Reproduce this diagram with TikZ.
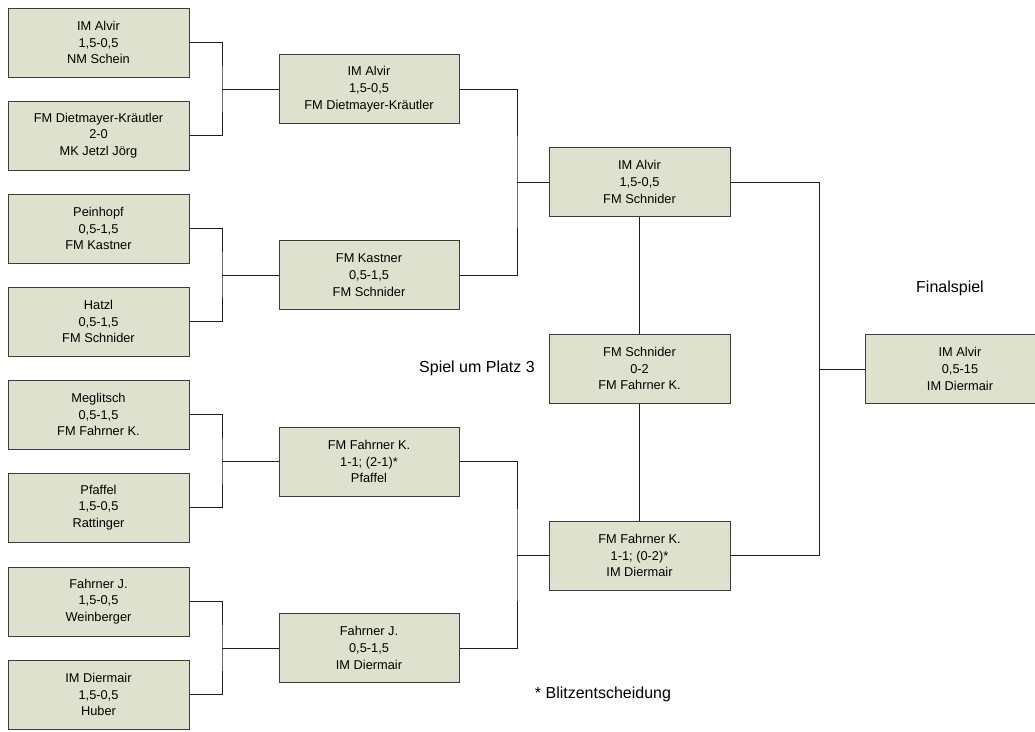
\documentclass[tikz,border=0pt]{standalone}
\usepackage{fontspec}
\setmainfont{Liberation Sans}
\definecolor{boxfill}{RGB}{222,225,205}
\definecolor{boxline}{RGB}{60,60,60}
\definecolor{conn}{RGB}{30,30,30}
\begin{document}
\begin{tikzpicture}[x=1pt,y=-1pt,
  match/.style={draw=boxline, fill=boxfill, line width=1pt, minimum width=181pt, minimum height=69pt,
    inner sep=0pt, align=center, font=\fontsize{12.8}{16.8}\selectfont},
  wire/.style={draw=conn, line width=1pt},
  caption/.style={font=\fontsize{16}{19}\selectfont, inner sep=0pt}]
\useasboundingbox (0,0) rectangle (1035,731);
% column 1
\node[match] (a1) at (98.5,42.5) {IM Alvir\\1,5-0,5\\NM Schein};
\node[match] (a2) at (98.5,135.5) {FM Dietmayer-Kräutler\\2-0\\MK Jetzl Jörg};
\node[match] (a3) at (98.5,228.5) {Peinhopf\\0,5-1,5\\FM Kastner};
\node[match] (a4) at (98.5,321.5) {Hatzl\\0,5-1,5\\FM Schnider};
\node[match] (a5) at (98.5,414.5) {Meglitsch\\0,5-1,5\\FM Fahrner K.};
\node[match] (a6) at (98.5,507.5) {Pfaffel\\1,5-0,5\\Rattinger};
\node[match] (a7) at (98.5,601.5) {Fahrner J.\\1,5-0,5\\Weinberger};
\node[match] (a8) at (98.5,694.5) {IM Diermair\\1,5-0,5\\Huber};
% column 2
\node[match, minimum width=180pt] (b1) at (369,89) {IM Alvir\\1,5-0,5\\FM Dietmayer-Kräutler};
\node[match, minimum width=180pt] (b2) at (369,275) {FM Kastner\\0,5-1,5\\FM Schnider};
\node[match, minimum width=180pt] (b3) at (369,461.5) {FM Fahrner K.\\1-1; (2-1)*\\Pfaffel};
\node[match, minimum width=180pt] (b4) at (369,648) {Fahrner J.\\0,5-1,5\\IM Diermair};
% column 3
\node[match] (c1) at (639.5,182) {IM Alvir\\1,5-0,5\\FM Schnider};
\node[match] (c2) at (639.5,368.5) {FM Schnider\\0-2\\FM Fahrner K.};
\node[match] (c3) at (639.5,555.5) {FM Fahrner K.\\1-1; (0-2)*\\IM Diermair};
% final
\node[match, minimum width=190pt] (f) at (960,369) {IM Alvir\\0,5-15\\IM Diermair};
% junctions
\coordinate (j1) at (222,89);
\coordinate (j2) at (222,275);
\coordinate (j3) at (222,461.5);
\coordinate (j4) at (222,648);
\coordinate (k1) at (517,182);
\coordinate (k2) at (517,555.5);
\coordinate (m1) at (819,369);
% wires
\draw[wire] (a1.east) -| (j1) |- (a2.east); \draw[wire] (j1) -- (b1.west);
\draw[wire] (a3.east) -| (j2) |- (a4.east); \draw[wire] (j2) -- (b2.west);
\draw[wire] (a5.east) -| (j3) |- (a6.east); \draw[wire] (j3) -- (b3.west);
\draw[wire] (a7.east) -| (j4) |- (a8.east); \draw[wire] (j4) -- (b4.west);
\draw[wire] (b1.east) -| (k1) |- (b2.east); \draw[wire] (k1) -- (c1.west);
\draw[wire] (b3.east) -| (k2) |- (b4.east); \draw[wire] (k2) -- (c3.west);
\draw[wire] (c1.east) -| (m1) |- (c3.east); \draw[wire] (m1) -- (f.west);
\draw[wire] (c1.south) -- (c2.north);
\draw[wire] (c2.south) -- (c3.north);
% captions
\node[caption] (t1) at (950,288) {Finalspiel};
\node[caption] (t2) at (477,368) {Spiel um Platz 3};
\node[caption] (t3) at (603,694) {* Blitzentscheidung};
\end{tikzpicture}
\end{document}
